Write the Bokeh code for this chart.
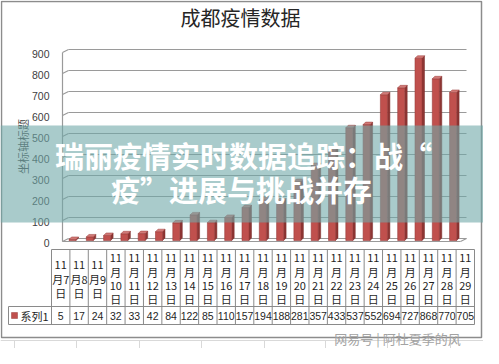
from math import pi
from bokeh.plotting import figure
from bokeh.models import Range1d, BoxAnnotation, Label
from bokeh.core.properties import value
from bokeh.embed import file_html
from bokeh.resources import INLINE

# ---------------- data ----------------
title_text = "成都疫情数据"
y_axis_title = "坐标轴标题"
series_name = "系列1"
dates = ["11月7日", "11月8日", "11月9日", "11月10日", "11月11日", "11月12日",
         "11月13日", "11月14日", "11月15日", "11月16日", "11月17日", "11月18日",
         "11月19日", "11月20日", "11月21日", "11月22日", "11月23日", "11月24日",
         "11月25日", "11月26日", "11月27日", "11月28日", "11月29日"]
values = [5, 17, 24, 32, 33, 42, 84, 122, 85, 110, 157, 194, 188, 281, 357,
          433, 537, 552, 694, 727, 868, 770, 705]
y_ticks = [0, 100, 200, 300, 400, 500, 600, 700, 800, 900]
banner_lines = ["瑞丽疫情实时数据追踪：战“", "疫”进展与挑战并存"]
watermark = "网易号 | 阿杜夏季的风"

# ---------------- layout ----------------
W, H = 483, 348
X0, SX = 72.0, 17.3      # px of category 0, px per category
Y0, SY = 240.0, 0.21     # px of value 0, px per value unit

def xd(px):
    return (px - X0) / SX

def yd(py):
    return (Y0 - py) / SY

p = figure(width=W, height=H, x_range=Range1d(xd(0), xd(W)),
           y_range=Range1d(yd(H), yd(0)), output_backend="svg",
           toolbar_location=None, min_border=0,
           x_axis_location=None, y_axis_location=None)
p.grid.visible = False
p.outline_line_color = None
p.background_fill_color = "white"
p.border_fill_color = "white"

CJK = value("Noto Sans CJK SC")
LAT = value("Liberation Sans")

# spreadsheet grid behind the chart
sheet_x = [14, 76, 139, 201, 264, 325, 387, 450]
p.segment(x0=[xd(v) for v in sheet_x], x1=[xd(v) for v in sheet_x],
          y0=[yd(340)] * len(sheet_x), y1=[yd(H)] * len(sheet_x),
          line_color="#d9d9d9", line_width=1)
p.segment(x0=[xd(0)], x1=[xd(W)], y0=[yd(340)], y1=[yd(340)],
          line_color="#d9d9d9", line_width=1)

# chart area border
p.quad(left=[xd(1)], right=[xd(481)], top=[yd(1)], bottom=[yd(337)],
       fill_color="white", line_color="#8c8c8c", line_width=1.5)

# title
p.text(x=[xd(240)], y=[yd(17)], text=[title_text], text_align="center",
       text_baseline="middle", text_font=CJK, text_font_size="20px",
       text_color="#262626")

# 3D walls / gridlines
back = 2 / SY
front = -1 / SY
grid_col = "#9a9a9a"
p.segment(x0=[xd(68)] * len(y_ticks), x1=[xd(466)] * len(y_ticks),
          y0=[t + back for t in y_ticks], y1=[t + back for t in y_ticks],
          line_color=grid_col, line_width=1.2)
p.segment(x0=[xd(62)] * len(y_ticks), x1=[xd(68)] * len(y_ticks),
          y0=[t + front for t in y_ticks], y1=[t + back for t in y_ticks],
          line_color=grid_col, line_width=1.2)
p.segment(x0=[xd(62)], x1=[xd(62)], y0=[y_ticks[0] + front],
          y1=[y_ticks[-1] + front], line_color=grid_col, line_width=1.2)
# floor
p.segment(x0=[xd(62), xd(460)], x1=[xd(460), xd(466)],
          y0=[front, front], y1=[front, back],
          line_color=grid_col, line_width=1.2)

# bars (3D look)
hw = 3.5 / SX
ddx = 2.5 / SX
ddy = 2.5 / SY
idx = list(range(len(values)))
side_xs = [[i + hw, i + hw + ddx, i + hw + ddx, i + hw] for i in idx]
side_ys = [[0, ddy, v + ddy, v] for v in values]
top_xs = [[i - hw, i - hw + ddx, i + hw + ddx, i + hw] for i in idx]
top_ys = [[v, v + ddy, v + ddy, v] for v in values]
p.patches(side_xs, side_ys, fill_color="#8e3533", line_color="#7a2c2a",
          line_width=0.5)
p.quad(left=[i - hw for i in idx], right=[i + hw for i in idx],
       bottom=[0] * len(values), top=values, fill_color="#c0504d",
       line_color="#9b3d3a", line_width=0.6)
p.patches(top_xs, top_ys, fill_color="#d27a77", line_color="#9b3d3a",
          line_width=0.5)

# y tick labels
p.text(x=[xd(49)] * len(y_ticks), y=y_ticks, text=[str(t) for t in y_ticks],
       text_align="right", text_baseline="middle", y_offset=2,
       text_font=LAT, text_font_size="10.5px", text_color="#404040")

# y axis title
p.text(x=[xd(22)], y=[yd(146)], text=[y_axis_title], angle=pi / 2,
       text_align="center", text_baseline="middle", text_font=CJK,
       text_font_size="11px", text_color="#404040")

# data table
n = len(dates)
tl, tr = 51.0, 474.0
cw = (tr - tl) / n
t_top, t_mid, t_bot = 249.0, 306.0, 324.0
tab_col = "#8a8a8a"
p.segment(x0=[xd(tl), xd(8), xd(8)], x1=[xd(tr)] * 3,
          y0=[yd(t_top), yd(t_mid), yd(t_bot)],
          y1=[yd(t_top), yd(t_mid), yd(t_bot)],
          line_color=tab_col, line_width=1)
vx = [tl + cw * k for k in range(n + 1)]
p.segment(x0=[xd(v) for v in vx], x1=[xd(v) for v in vx],
          y0=[yd(t_top)] * len(vx), y1=[yd(t_bot)] * len(vx),
          line_color=tab_col, line_width=1)
p.segment(x0=[xd(8)], x1=[xd(8)], y0=[yd(t_mid)], y1=[yd(t_bot)],
          line_color=tab_col, line_width=1)

hx, hy, ht = [], [], []
for k, d in enumerate(dates):
    month, rest = d.split("月")
    day = rest.rstrip("日")
    cx = tl + cw * (k + 0.5)
    if len(day) == 1:
        lines = [month, "月" + day, "日"]
        ys = [264.4, 278.2, 292.0]
    else:
        lines = [month, "月", day, "日"]
        ys = [257.5, 271.3, 285.1, 298.9]
    for s, yy in zip(lines, ys):
        hx.append(xd(cx))
        hy.append(yd(yy))
        ht.append(s)
p.text(x=hx, y=hy, text=ht, text_align="center", text_baseline="middle",
       text_font=CJK, text_font_size="11px", text_color="#1f1f1f")

p.text(x=[xd(tl + cw * (k + 0.5)) for k in range(n)], y=[yd(315.5)] * n,
       text=[str(v) for v in values], text_align="center",
       text_baseline="middle", text_font=LAT, text_font_size="10.5px",
       text_color="#1f1f1f")

# legend key in table
p.quad(left=[xd(11)], right=[xd(17)], top=[yd(312)], bottom=[yd(318)],
       fill_color="#c0504d", line_color="#9b3d3a", line_width=0.5)
p.text(x=[xd(20)], y=[yd(315.5)], text=[series_name], text_align="left",
       text_baseline="middle", text_font=CJK, text_font_size="11px",
       text_color="#1f1f1f")

# overlay banner
p.add_layout(BoxAnnotation(top=yd(125), bottom=yd(222), fill_color="#6fa8a8",
                           fill_alpha=0.6, line_color=None))
for s, yy, xx in zip(banner_lines, [154, 188], [243, 241]):
    p.add_layout(Label(x=xd(xx), y=yd(yy), text=s, text_align="center",
                       text_baseline="middle", text_font="Noto Sans CJK SC",
                       text_font_style="bold", text_font_size="29px",
                       text_color="white"))

# watermark
p.add_layout(Label(x=xd(397), y=yd(338), text=watermark, text_align="center",
                   text_baseline="middle", text_font="Noto Sans CJK SC",
                   text_font_size="13px", text_color="#a3a3a3"))

open("out.html", "w").write(file_html(p, INLINE))
